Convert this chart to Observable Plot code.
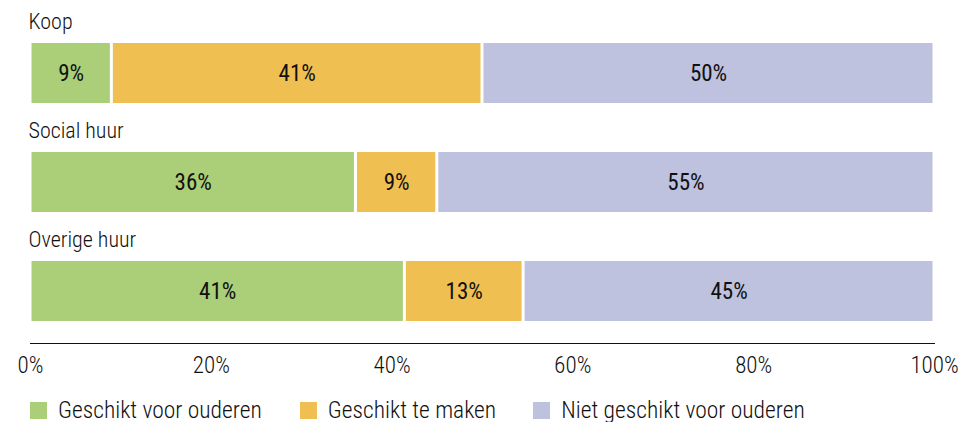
<!DOCTYPE html>
<html>
<head>
<meta charset="utf-8">
<script src="https://cdn.jsdelivr.net/npm/d3@7"></script>
<script src="https://cdn.jsdelivr.net/npm/@observablehq/plot@0.6"></script>
<style>
  body { margin: 0; background: #fff; font-family: "Roboto Condensed", Roboto, sans-serif; font-stretch: condensed; }
  #legend { display: flex; margin-left: 30px; margin-top: 18px; font-size: 23.5px; line-height: 24px; color: #111; font-weight: 300; }
  .item { display: flex; align-items: center; }
  .sw { width: 17px; height: 17px; margin-right: 11px; }
</style>
</head>
<body>
<div id="chart"></div>
<div id="legend"></div>
<script>
const categories = ["Koop", "Social huur", "Overige huur"];
const series = ["Geschikt voor ouderen", "Geschikt te maken", "Niet geschikt voor ouderen"];
const colors = ["#abcf79", "#f0bf52", "#bec2de"];
const values = {
  "Geschikt voor ouderen": [9, 36, 41],
  "Geschikt te maken": [41, 9, 13],
  "Niet geschikt voor ouderen": [50, 55, 45]
};
const xTicks = [0, 0.2, 0.4, 0.6, 0.8, 1];

const data = [];
categories.forEach((c, i) => series.forEach(s => data.push({cat: c, series: s, value: values[s][i]})));

const font = '"Roboto Condensed", Roboto, sans-serif';
const stackOpts = {x: "value", y: "cat", z: "series", offset: "normalize", order: series};

const chart = Plot.plot({
  width: 961,
  height: 380,
  marginLeft: 30,
  marginRight: 27,
  marginTop: 21,
  marginBottom: 37,
  style: {fontFamily: font, fontSize: "22px", color: "#111", fontStretch: "condensed"},
  x: {domain: [0, 1], label: null},
  y: {domain: categories, paddingInner: 0.45, paddingOuter: 0.2, axis: null},
  color: {domain: series, range: colors},
  marks: [
    Plot.barX(data, Plot.stackX({...stackOpts, fill: "series", insetLeft: 1.5, insetRight: 1.5})),
    Plot.text(data, Plot.stackX({...stackOpts, text: d => d.value + "%", fill: "#111", fontSize: 23, fontWeight: 400})),
    Plot.text(categories, {x: 0, y: d => d, text: d => d, dy: -52, dx: -2, textAnchor: "start", fontSize: 22, fontWeight: 300, fill: "#111"}),
    Plot.frame({anchor: "bottom", stroke: "#111"}),
    Plot.axisX({ticks: xTicks, tickFormat: d => Math.round(d * 100) + "%", tickSize: 0, tickPadding: 13, fontSize: 23, fontWeight: 300, label: null, fill: "#111"})
  ]
});
document.getElementById("chart").appendChild(chart);

const legend = document.getElementById("legend");
const gaps = [0, 38, 37];
series.forEach((s, i) => {
  const it = document.createElement("div");
  it.className = "item";
  it.style.marginLeft = gaps[i] + "px";
  it.innerHTML = `<span class="sw" style="background:${colors[i]}"></span><span>${s}</span>`;
  legend.appendChild(it);
});
</script>
</body>
</html>
